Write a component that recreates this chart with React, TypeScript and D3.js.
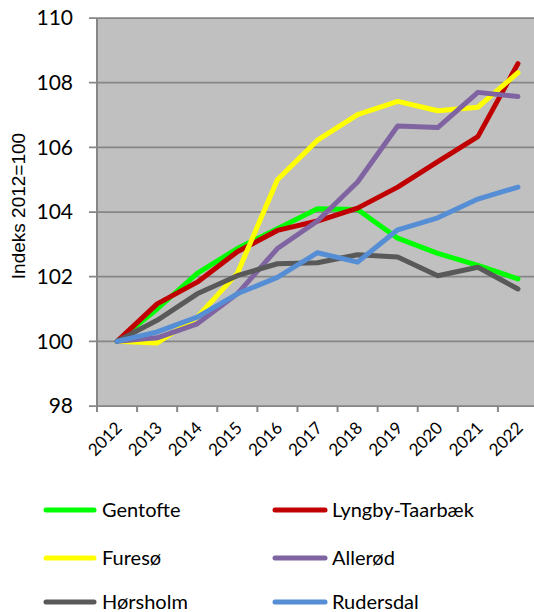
import React from "react";
import * as d3 from "d3";

const years = ["2012", "2013", "2014", "2015", "2016", "2017", "2018", "2019", "2020", "2021", "2022"];
const yTicks = [98, 100, 102, 104, 106, 108, 110];

const gentofte = [100, 101.0, 102.1, 102.87, 103.48, 104.1, 104.08, 103.19, 102.72, 102.35, 101.93];
const lyngby = [100, 101.16, 101.83, 102.77, 103.43, 103.72, 104.12, 104.77, 105.56, 106.33, 108.59];
const fureso = [100, 99.95, 100.75, 102.1, 105.0, 106.22, 107.01, 107.42, 107.13, 107.24, 108.31];
const allerod = [100, 100.11, 100.54, 101.47, 102.87, 103.72, 104.93, 106.66, 106.61, 107.7, 107.57];
const horsholm = [100, 100.65, 101.47, 102.03, 102.4, 102.43, 102.68, 102.61, 102.03, 102.29, 101.62];
const rudersdal = [100, 100.29, 100.75, 101.47, 101.98, 102.74, 102.45, 103.45, 103.82, 104.4, 104.77];

const seriesNames = ["Gentofte", "Lyngby-Taarbæk", "Furesø", "Allerød", "Hørsholm", "Rudersdal"];
const seriesValues = [gentofte, lyngby, fureso, allerod, horsholm, rudersdal];
const seriesColors = ["#00FF00", "#C00000", "#FFFF00", "#8064A2", "#595959", "#558ED5"];

const FONT = "Lato, 'Open Sans', sans-serif";

export default function App() {
  const W = 534, H = 612;
  const left = 97, right = 538, top = 18, bottom = 406;
  const x = d3.scaleBand<string>().domain(years).range([left, right]);
  const y = d3.scaleLinear().domain([98, 110]).range([bottom, top]);
  const line = d3
    .line<number>()
    .x((_, i) => (x(years[i]) as number) + x.bandwidth() / 2)
    .y((d) => y(d));

  const legendRows = [510, 558, 602];
  const legendCols = [{ l0: 46, l1: 94, t: 102 }, { l0: 275, l1: 325, t: 332 }];

  return (
    <svg
      width={W}
      height={H}
      style={{ position: "absolute", left: 0, top: 0, background: "#fff" }}
      fontFamily={FONT}
    >
      <rect x={left} y={top} width={right - left} height={bottom - top} fill="#C0C0C0" />
      {yTicks.map((t) => (
        <g key={t}>
          <line x1={89} x2={right} y1={y(t)} y2={y(t)} stroke="#868686" strokeWidth={1.75} />
          <text x={73} y={y(t)} dy="0.35em" textAnchor="end" fontSize={21} fill="#000">
            {t}
          </text>
        </g>
      ))}
      <line x1={left} x2={left} y1={top} y2={bottom + 6} stroke="#868686" strokeWidth={2} />
      {years.map((yr, i) => {
        const bx = (x(yr) as number) + x.bandwidth();
        const cx = (x(yr) as number) + x.bandwidth() / 2;
        return (
          <g key={yr}>
            <line x1={bx} x2={bx} y1={bottom} y2={bottom + 6} stroke="#868686" strokeWidth={2} />
            <text
              transform={`translate(${cx + 6},${bottom + 23}) rotate(-45)`}
              textAnchor="end"
              fontSize={17}
              fill="#000"
            >
              {yr}
            </text>
          </g>
        );
      })}
      <text
        transform={`translate(25,206) rotate(-90)`}
        textAnchor="middle"
        fontSize={19}
        fontFamily="'Liberation Sans', Arial, sans-serif"
        fill="#000"
      >
        Indeks 2012=100
      </text>
      {seriesValues.map((vals, i) => (
        <path
          key={seriesNames[i]}
          d={line(vals) || ""}
          fill="none"
          stroke={seriesColors[i]}
          strokeWidth={5}
          strokeLinejoin="round"
          strokeLinecap="round"
        />
      ))}
      {seriesNames.map((name, i) => {
        const col = legendCols[i % 2];
        const ry = legendRows[Math.floor(i / 2)];
        return (
          <g key={name}>
            <line
              x1={col.l0}
              x2={col.l1}
              y1={ry}
              y2={ry}
              stroke={seriesColors[i]}
              strokeWidth={5}
              strokeLinecap="round"
            />
            <text x={col.t} y={ry} dy="0.35em" fontSize={20} fill="#000">
              {name}
            </text>
          </g>
        );
      })}
    </svg>
  );
}
